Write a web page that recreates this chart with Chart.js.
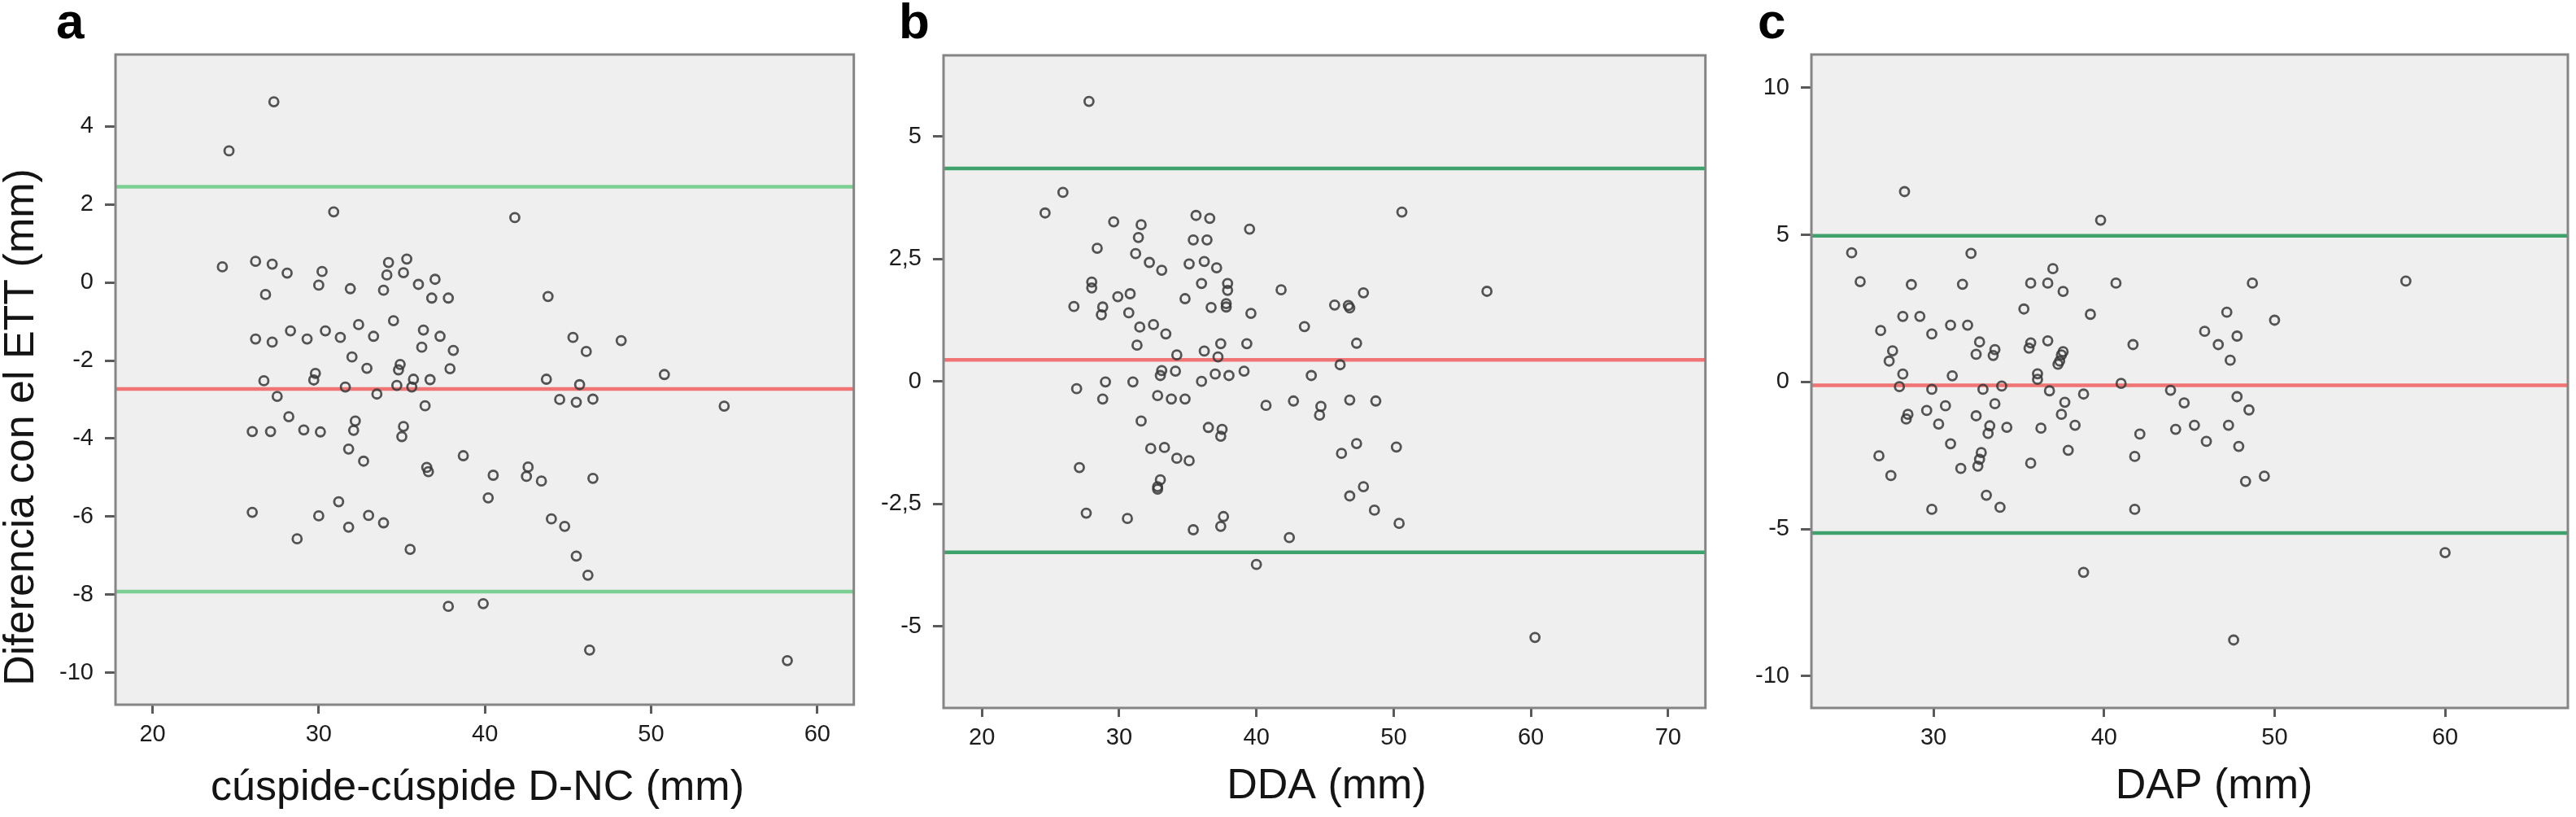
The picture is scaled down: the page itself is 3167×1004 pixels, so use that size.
<!DOCTYPE html>
<html>
<head>
<meta charset="utf-8">
<script src="https://cdn.jsdelivr.net/npm/chart.js@4.4.1/dist/chart.umd.min.js"></script>
<style>
  html, body { margin: 0; padding: 0; background: #fff; }
  body { width: 3167px; height: 1004px; position: relative; overflow: hidden; }
  .panel { position: absolute; top: 0; height: 1004px; }
  .lab { position: absolute; top: -5px; font: bold 62px "Liberation Sans", Arial, sans-serif; line-height: 62px; color: #000; }
</style>
</head>
<body>
<div class="panel" style="left:0px;width:1058px"><canvas id="chartA"></canvas></div>
<div class="panel" style="left:1058px;width:1047px"><canvas id="chartB"></canvas></div>
<div class="panel" style="left:2105px;width:1062px"><canvas id="chartC"></canvas></div>
<div class="lab" style="left:69px">a</div>
<div class="lab" style="left:1105px">b</div>
<div class="lab" style="left:2161px">c</div>
<script>
// panel a: cúspide-cúspide D-NC
const aX = [27.3, 24.6, 30.9, 41.8, 24.2, 26.2, 27.2, 28.1, 30.2, 30.0,
  26.8, 31.9, 33.9, 34.2, 34.1, 35.3, 35.1, 36.0, 37.0, 36.8,
  37.8, 43.8, 34.5, 32.4, 33.3, 30.4, 31.3, 28.3, 29.3, 26.2,
  27.2, 36.3, 37.3, 36.2, 38.1, 45.3, 46.1, 48.2, 32.0, 32.9,
  34.9, 34.8, 37.9, 36.7, 35.7, 29.8, 29.7, 26.7, 31.6, 34.7,
  35.6, 43.7, 45.7, 50.8, 27.5, 33.5, 36.4, 44.5, 45.5, 46.5,
  54.4, 28.2, 32.2, 32.1, 26.0, 27.1, 29.1, 30.1, 35.1, 35.0,
  31.8, 32.7, 38.7, 36.5, 36.6, 42.6, 42.5, 40.5, 43.4, 46.5,
  40.2, 31.2, 26.0, 30.0, 33.0, 33.9, 31.8, 44.0, 44.8, 28.7,
  35.5, 45.5, 46.2, 37.8, 39.9, 46.3, 58.2];
const aY = [4.63, 3.37, 1.81, 1.66, 0.4, 0.54, 0.47, 0.24, 0.28, -0.07,
  -0.31, -0.16, -0.2, 0.51, 0.19, 0.6, 0.25, -0.05, 0.08, -0.4,
  -0.4, -0.36, -0.98, -1.08, -1.38, -1.24, -1.41, -1.24, -1.45, -1.45,
  -1.53, -1.22, -1.38, -1.66, -1.74, -1.41, -1.77, -1.49, -1.91, -2.2,
  -2.1, -2.24, -2.21, -2.49, -2.48, -2.33, -2.5, -2.52, -2.68, -2.64,
  -2.68, -2.48, -2.62, -2.36, -2.92, -2.86, -3.16, -3.0, -3.07, -2.99,
  -3.17, -3.44, -3.55, -3.79, -3.82, -3.82, -3.78, -3.83, -3.69, -3.95,
  -4.27, -4.58, -4.44, -4.74, -4.85, -4.73, -4.97, -4.94, -5.09, -5.02,
  -5.52, -5.62, -5.89, -5.98, -5.97, -6.16, -6.27, -6.06, -6.25, -6.57,
  -6.84, -7.01, -7.5, -8.3, -8.23, -9.42, -9.69];
const aMean = -2.73;
const aLimits = [2.45, -7.92];
const aXTicks = [20, 30, 40, 50, 60];
const aYTicks = [-10, -8, -6, -4, -2, 0, 2, 4];

// panel b: DDA
const bX = [27.8, 25.9, 24.6, 29.6, 31.6, 31.4, 28.4, 31.2, 32.2, 33.1,
  35.6, 36.6, 39.5, 35.4, 36.4, 35.1, 36.2, 37.1, 50.6, 28.0,
  28.0, 36.0, 37.9, 37.9, 41.8, 47.8, 56.8, 29.9, 30.8, 34.8,
  26.7, 28.8, 28.7, 30.7, 36.7, 37.8, 37.8, 39.6, 45.7, 46.7,
  46.8, 31.5, 32.5, 33.4, 43.5, 31.3, 37.4, 39.3, 47.3, 36.2,
  34.2, 37.2, 46.1, 33.1, 33.0, 34.1, 37.0, 38.0, 39.1, 44.0,
  26.9, 29.0, 31.0, 36.0, 28.8, 32.8, 33.8, 34.8, 40.7, 42.7,
  44.7, 44.6, 46.8, 48.7, 31.6, 36.5, 37.5, 37.4, 32.3, 33.3,
  34.2, 35.1, 46.2, 47.3, 50.2, 27.1, 33.0, 32.8, 32.8, 47.8,
  46.8, 27.6, 30.6, 37.6, 37.4, 35.4, 48.6, 50.4, 42.4, 40.0, 60.3];
const bY = [5.72, 3.86, 3.44, 3.26, 3.2, 2.94, 2.72, 2.61, 2.43, 2.27,
  3.39, 3.33, 3.11, 2.89, 2.89, 2.4, 2.45, 2.32, 3.46, 2.03,
  1.91, 2.0, 2.0, 1.86, 1.87, 1.81, 1.84, 1.73, 1.79, 1.69,
  1.53, 1.52, 1.36, 1.4, 1.51, 1.59, 1.52, 1.39, 1.56, 1.55,
  1.5, 1.11, 1.16, 0.97, 1.12, 0.74, 0.77, 0.77, 0.78, 0.62,
  0.54, 0.5, 0.34, 0.22, 0.12, 0.21, 0.15, 0.12, 0.21, 0.12,
  -0.15, -0.01, -0.01, 0.0, -0.36, -0.29, -0.36, -0.36, -0.49, -0.4,
  -0.51, -0.69, -0.38, -0.4, -0.81, -0.94, -0.98, -1.12, -1.37, -1.35,
  -1.57, -1.62, -1.47, -1.27, -1.34, -1.76, -2.01, -2.15, -2.2, -2.15,
  -2.34, -2.69, -2.8, -2.76, -2.96, -3.03, -2.63, -2.9, -3.19, -3.74, -5.23];
const bMean = 0.44;
const bLimits = [4.35, -3.49];
const bXTicks = [20, 30, 40, 50, 60, 70];
const bYTicks = [-5, -2.5, 0, 2.5, 5];

// panel c: DAP
const cX = [28.3, 39.8, 25.2, 32.2, 37.0, 25.7, 28.7, 31.7, 35.7, 36.7,
  37.6, 40.7, 48.7, 57.7, 35.3, 39.2, 47.2, 50.0, 28.2, 29.2,
  31.0, 32.0, 26.9, 29.9, 45.9, 47.8, 32.7, 35.7, 36.7, 41.7,
  46.7, 27.6, 33.6, 33.5, 32.5, 35.6, 37.6, 37.5, 37.4, 37.3,
  27.4, 47.4, 28.2, 31.1, 36.1, 36.1, 28.0, 29.9, 32.9, 34.0,
  36.8, 38.8, 41.0, 43.9, 44.7, 47.8, 37.7, 33.6, 30.7, 29.6,
  28.5, 28.4, 32.5, 37.5, 48.5, 30.3, 33.3, 33.2, 34.3, 36.3,
  38.3, 44.2, 45.3, 47.3, 42.1, 46.0, 47.9, 31.0, 37.9, 26.8,
  32.8, 32.7, 32.6, 31.6, 41.8, 35.7, 27.5, 49.4, 48.3, 33.1,
  33.9, 29.9, 41.8, 38.8, 60.0, 47.6];
const cY = [6.47, 5.5, 4.39, 4.37, 3.85, 3.41, 3.31, 3.32, 3.36, 3.36,
  3.08, 3.36, 3.36, 3.43, 2.48, 2.3, 2.37, 2.1, 2.23, 2.23,
  1.93, 1.93, 1.75, 1.63, 1.72, 1.56, 1.36, 1.33, 1.4, 1.27,
  1.27, 1.06, 1.1, 0.9, 0.94, 1.15, 1.03, 0.92, 0.71, 0.6,
  0.71, 0.74, 0.27, 0.21, 0.28, 0.09, -0.16, -0.25, -0.25, -0.14,
  -0.3, -0.41, -0.05, -0.28, -0.71, -0.5, -0.69, -0.74, -0.81, -0.97,
  -1.1, -1.26, -1.15, -1.1, -0.95, -1.43, -1.49, -1.75, -1.54, -1.57,
  -1.47, -1.61, -1.47, -1.47, -1.77, -2.02, -2.19, -2.1, -2.32, -2.51,
  -2.4, -2.63, -2.86, -2.94, -2.53, -2.76, -3.18, -3.2, -3.38, -3.85,
  -4.26, -4.33, -4.33, -6.47, -5.8, -8.77];
const cMean = -0.11;
const cLimits = [4.97, -5.13];
const cXTicks = [30, 40, 50, 60];
const cYTicks = [-10, -5, 0, 5, 10];

const FONT = '"Liberation Sans", Arial, sans-serif';

// grey plot background, frame and axis titles (SPSS look)
const spssFrame = {
  id: "spssFrame",
  beforeDraw(chart) {
    const a = chart.chartArea;
    const ctx = chart.ctx;
    ctx.save();
    ctx.fillStyle = "#efefef";
    ctx.fillRect(a.left, a.top, a.right - a.left, a.bottom - a.top);
    ctx.restore();
  },
  afterDraw(chart, args, opts) {
    const a = chart.chartArea;
    const ctx = chart.ctx;
    ctx.save();
    ctx.strokeStyle = "#858585";
    ctx.lineWidth = 3;
    ctx.strokeRect(a.left, a.top, a.right - a.left, a.bottom - a.top);
    ctx.fillStyle = "#141414";
    ctx.font = "52px " + FONT;
    ctx.textAlign = "center";
    ctx.textBaseline = "middle";
    if (opts.xTitle) {
      ctx.fillText(opts.xTitle[0], opts.xTitle[1], opts.xTitle[2]);
    }
    if (opts.yTitle) {
      ctx.translate(opts.yTitle[1], opts.yTitle[2]);
      ctx.rotate(-Math.PI / 2);
      ctx.fillText(opts.yTitle[0], 0, 0);
    }
    ctx.restore();
  },
};

function makePanel(id, xs, ys, mean, limits, xRange, yRange, xTicks, yTicks, box, titles, limitColor) {
  const points = xs.map((x, i) => ({ x: x, y: ys[i] }));
  const hline = (v) => [{ x: xRange[0], y: v }, { x: xRange[1], y: v }];
  const datasets = [
    {
      data: points,
      pointRadius: 5.5,
      pointBorderWidth: 2.8,
      pointBackgroundColor: "rgba(0,0,0,0)",
      pointBorderColor: "rgba(55,55,55,0.85)",
      order: 0,
    },
    { type: "line", data: hline(mean), borderColor: "#f07474", borderWidth: 4.5, pointRadius: 0, order: 1 },
  ];
  limits.forEach((v) => {
    datasets.push({ type: "line", data: hline(v), borderColor: limitColor, borderWidth: 4.5, pointRadius: 0, order: 1 });
  });

  return new Chart(document.getElementById(id), {
    type: "scatter",
    data: { datasets: datasets },
    plugins: [spssFrame],
    options: {
      responsive: true,
      maintainAspectRatio: false,
      animation: false,
      layout: { padding: { top: box.top, right: box.right, left: 0, bottom: 0 } },
      plugins: {
        legend: { display: false },
        tooltip: { enabled: false },
        spssFrame: titles,
      },
      scales: {
        x: {
          type: "linear",
          min: xRange[0],
          max: xRange[1],
          afterBuildTicks: (s) => { s.ticks = xTicks.map((v) => ({ value: v })); },
          afterFit: (s) => { s.height = box.bottom; },
          border: { display: false },
          grid: { drawOnChartArea: false, drawTicks: true, tickLength: 11, tickColor: "#5a5a5a", tickWidth: 3 },
          ticks: { color: "#1c1c1c", font: { family: FONT, size: 29 }, padding: 9, maxRotation: 0, autoSkip: false },
        },
        y: {
          type: "linear",
          min: yRange[0],
          max: yRange[1],
          afterBuildTicks: (s) => { s.ticks = yTicks.map((v) => ({ value: v })); },
          afterFit: (s) => { s.width = box.left; },
          border: { display: false },
          grid: { drawOnChartArea: false, drawTicks: true, tickLength: 13, tickColor: "#5a5a5a", tickWidth: 3 },
          ticks: {
            color: "#1c1c1c",
            font: { family: FONT, size: 29 },
            padding: 14,
            autoSkip: false,
            callback: (v) => String(v).replace(".", ","),
          },
        },
      },
    },
  });
}

makePanel("chartA", aX, aY, aMean, aLimits, [17.77, 62.2], [-10.82, 5.84], aXTicks, aYTicks,
  { left: 142, top: 67, right: 7, bottom: 138 },
  { xTitle: ["cúspide-cúspide D-NC (mm)", 587, 969], yTitle: ["Diferencia con el ETT (mm)", 27, 525] },
  "#7ccf92");

makePanel("chartB", bX, bY, bMean, bLimits, [17.2, 72.72], [-6.67, 6.66], bXTicks, bYTicks,
  { left: 102, top: 68, right: 7, bottom: 134 },
  { xTitle: ["DDA (mm)", 573, 967] },
  "#3fa26c");

makePanel("chartC", cX, cY, cMean, cLimits, [22.84, 67.2], [-11.08, 11.13], cXTicks, cYTicks,
  { left: 122, top: 67, right: 10, bottom: 134 },
  { xTitle: ["DAP (mm)", 617, 967] },
  "#3fa26c");
</script>
</body>
</html>
